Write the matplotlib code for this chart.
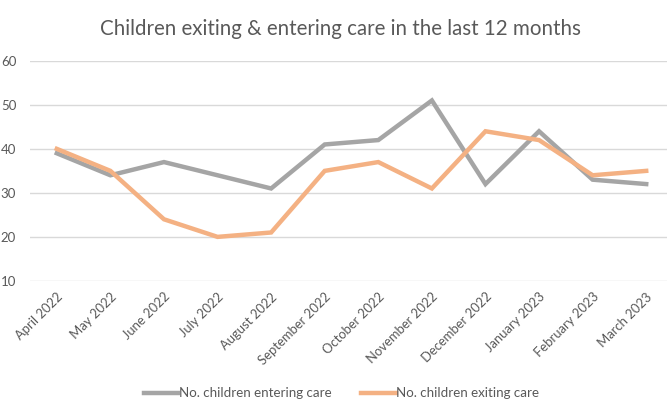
import matplotlib
matplotlib.use("Agg")
import matplotlib.pyplot as plt

plt.rcParams['font.family'] = ['Lato', 'DejaVu Sans']

months = ["April 2022", "May 2022", "June 2022", "July 2022", "August 2022",
          "September 2022", "October 2022", "November 2022", "December 2022",
          "January 2023", "February 2023", "March 2023"]
entering = [39, 34, 37, 34, 31, 41, 42, 51, 32, 44, 33, 32]
exiting = [40, 35, 24, 20, 21, 35, 37, 31, 44, 42, 34, 35]

txt = "#595959"

fig = plt.figure(figsize=(6.67, 4.03), dpi=100)
ax = fig.add_axes([0.045, 0.303, 0.964, 0.546])

x = list(range(len(months)))
ax.plot(x, entering, color="#A5A5A5", lw=3.2, solid_joinstyle="miter",
        label="No. children entering care")
ax.plot(x, exiting, color="#F4B183", lw=3.2, solid_joinstyle="miter",
        label="No. children exiting care")

ax.set_xlim(-0.5, len(months) - 0.5)
ax.set_ylim(10, 60)
ax.set_yticks(range(10, 61, 10))
ax.set_xticks(x)
ax.set_xticklabels(months, rotation=45, ha="right", rotation_mode="anchor",
                   color=txt, fontsize=9.4)
ax.tick_params(axis="y", colors=txt, labelsize=9.5, length=0, pad=10)
ax.tick_params(axis="x", length=0, pad=7)
ax.grid(axis="y", color="#D9D9D9", lw=1)
ax.set_axisbelow(True)
for s in ax.spines.values():
    s.set_visible(False)

fig.text(0.51, 0.928, "Children exiting & entering care in the last 12 months",
         ha="center", va="center", fontsize=14.8, color=txt)

fig.legend(loc="center", bbox_to_anchor=(0.512, 0.024), ncol=2, frameon=False,
           fontsize=9.6, labelcolor=txt, handlelength=2.6, handletextpad=0.05,
           columnspacing=2.2)

fig.savefig("out.png", dpi=100)
